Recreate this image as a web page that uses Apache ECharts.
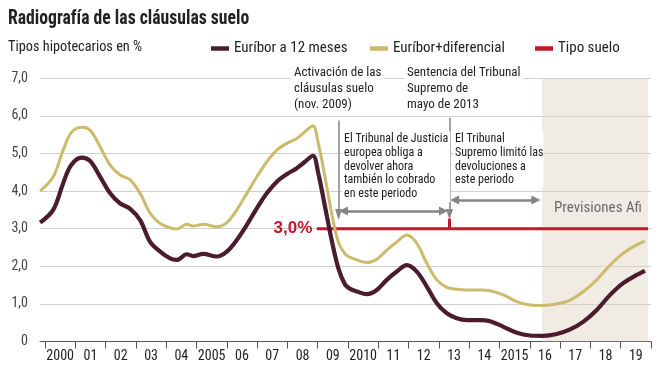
<!DOCTYPE html>
<html>
<head>
<meta charset="utf-8">
<script src="https://cdn.jsdelivr.net/npm/echarts@6/dist/echarts.min.js"></script>
<style>
html,body{margin:0;padding:0;background:#fff;}
#chart{width:664px;height:379px;}
</style>
</head>
<body>
<div id="chart"></div>
<script>
// ---- data ----
var years = [1999.84,2000.27,2000.60,2000.86,2001.21,2001.49,2001.82,2002.15,2002.48,2002.81,
  2003.14,2003.47,2003.80,2004.13,2004.35,2004.68,2004.89,2005.22,2005.67,2006.00,
  2006.33,2006.66,2006.99,2007.32,2007.65,2007.98,2008.31,2008.58,2008.84,2009.02,
  2009.24,2009.46,2009.68,2009.90,2010.07,2010.29,2010.62,2010.95,2011.28,2011.61,
  2011.94,2012.27,2012.60,2012.93,2013.26,2013.59,2013.92,2014.36,2014.69,2015.13,
  2015.57,2016.01,2016.45,2016.89,2017.33,2017.77,2018.21,2018.65,2019.09,2019.53,2019.80];
var euribor = [3.16,3.50,4.21,4.69,4.89,4.80,4.38,3.94,3.67,3.53,
  3.23,2.65,2.39,2.21,2.17,2.32,2.27,2.33,2.26,2.39,
  2.70,3.10,3.54,3.94,4.25,4.45,4.61,4.78,4.94,4.47,
  3.59,2.70,1.95,1.52,1.40,1.33,1.26,1.37,1.64,1.86,
  2.03,1.86,1.46,1.02,0.75,0.62,0.57,0.57,0.54,0.39,
  0.23,0.16,0.15,0.20,0.32,0.53,0.84,1.24,1.56,1.77,1.88];
var euriborDif = [4.00,4.38,5.09,5.55,5.70,5.62,5.18,4.69,4.43,4.30,
  3.94,3.41,3.14,3.02,2.99,3.12,3.07,3.12,3.05,3.16,
  3.50,3.94,4.38,4.78,5.09,5.27,5.40,5.58,5.74,5.27,
  4.38,3.41,2.65,2.33,2.24,2.17,2.10,2.19,2.43,2.65,
  2.83,2.61,2.08,1.64,1.44,1.39,1.37,1.37,1.35,1.24,
  1.06,0.97,0.96,1.00,1.10,1.33,1.64,2.03,2.35,2.57,2.67];
var floorYears = [2008.97, 2019.90];
var floorRate = 3.0;
var sentenceYear = 2013.35;
var activationYear = 2009.69;
var forecastYears = [2016.40, 2019.90];
var tickYears = [2000,2001,2002,2003,2004,2005,2006,2007,2008,2009,2010,2011,2012,2013,2014,2015,2016,2017,2018,2019,2020];
var tickLabels = ['2000','01','02','03','04','2005','06','07','08','09','2010','11','12','13','14','2015','16','17','18','19'];

// ---- styles ----
var FONT = "'Roboto Condensed','Open Sans',sans-serif";
var C_DARK = '#4a1c2e', C_YEL = '#cbbb6b', C_RED = '#c4172c', C_ARW = '#858585';

function pairs(xs, ys){ return xs.map(function(x,i){ return [x, ys[i]]; }); }

var chart = echarts.init(document.getElementById('chart'), null, {renderer:'canvas'});

var legendText = {fontFamily: FONT, fontSize: 15, color: '#222'};
function legendFor(name, left){
  return {left: left, top: 41, padding: 0, itemWidth: 18, itemHeight: 4.5, icon: 'rect',
    data: [name], textStyle: legendText, selectedMode: false};
}

var option = {
  backgroundColor: '#fff',
  animation: false,
  textStyle: {fontFamily: FONT},
  title: [
    {text: 'Tipos hipotecarios en %', left: 8, top: 40, padding: 0,
     textStyle: {fontFamily: FONT, fontWeight: 'normal', fontSize: 14.3, color: '#222'}}
  ],
  legend: [
    legendFor('Euríbor a 12 meses', 211),
    legendFor('Euríbor+diferencial', 370),
    legendFor('Tipo suelo', 535)
  ],
  grid: {left: 40, right: 13, top: 78.3, bottom: 37.5, containLabel: false},
  xAxis: {
    type: 'value', min: 1999.835, max: 2020,
    axisLine: {show: true, lineStyle: {color: '#555', width: 1}},
    axisTick: {show: true, length: 7, lineStyle: {color: '#555'}, customValues: tickYears},
    axisLabel: {show: true, customValues: tickYears.slice(0,20).map(function(y){return y+0.5;}),
      formatter: function(v){ return tickLabels[Math.floor(v)-2000]; },
      fontFamily: FONT, fontSize: 14, color: '#222', margin: 8},
    splitLine: {show: false}
  },
  yAxis: {
    type: 'value', min: 0, max: 7, interval: 1,
    axisLine: {show: false}, axisTick: {show: false},
    axisLabel: {formatter: function(v){ return v === 0 ? '0' : v.toFixed(1).replace('.', ','); },
      fontFamily: FONT, fontSize: 14, color: '#444', margin: 12},
    splitLine: {show: true, lineStyle: {color: '#d0d0d0', width: 1.2}}
  },
  series: [
    {
      name: 'forecast', type: 'line', data: [], silent: true, z: 1,
      markArea: {silent: true, itemStyle: {color: 'rgba(222,212,196,0.45)'},
        label: {show: true, position: 'insideTop', distance: 0, offset: [3, 122],
          formatter: 'Previsiones Afi', fontFamily: FONT, fontSize: 15, color: '#6a6a6a'},
        data: [[{coord: [forecastYears[0], 0]}, {coord: [forecastYears[1], 7]}]]}
    },
    {
      name: 'Tipo suelo', type: 'line', color: C_RED, z: 3,
      data: pairs(floorYears, [floorRate, floorRate]),
      showSymbol: false, symbol: 'none',
      lineStyle: {width: 3, color: C_RED},
      markPoint: {
        symbol: 'rect', symbolSize: [1,1], itemStyle: {color: 'rgba(0,0,0,0)'},
        label: {show: true, position: 'left', distance: 4, formatter: '3,0%',
          fontFamily: "'Liberation Sans',Arial,sans-serif", fontSize: 17, fontWeight: 'bold', color: C_RED},
        data: [{coord: [floorYears[0], floorRate]}]
      },
      markLine: {silent: true, symbol: 'none', lineStyle: {color: C_RED, width: 3, type: 'solid'},
        label: {show: false},
        data: [[{coord: [sentenceYear, floorRate]}, {coord: [sentenceYear, 3.27]}]]}
    },
    {
      name: 'Euríbor+diferencial', type: 'line', color: C_YEL, z: 4,
      data: pairs(years, euriborDif), smooth: 0.35, showSymbol: false, symbol: 'none',
      lineStyle: {width: 3, color: C_YEL}
    },
    {
      name: 'Euríbor a 12 meses', type: 'line', color: C_DARK, z: 5,
      data: pairs(years, euribor), smooth: 0.35, showSymbol: false, symbol: 'none',
      lineStyle: {width: 4.2, color: C_DARK}
    },
    {
      name: 'annot', type: 'line', data: [], silent: true, z: 6,
      markLine: {silent: true, animation: false,
        lineStyle: {color: C_ARW, width: 1.5, type: 'solid'},
        label: {show: false},
        data: [
          [{coord: [activationYear, 5.88], symbol: 'none'}, {coord: [activationYear, 3.38], symbol: 'triangle', symbolSize: [7, 11]}],
          [{coord: [sentenceYear, 5.95], symbol: 'none'}, {coord: [sentenceYear, 3.38], symbol: 'triangle', symbolSize: [7, 11]}],
          [{coord: [2009.85, 3.47], symbol: 'triangle', symbolSize: [9, 9], lineStyle: {width: 2.5}}, {coord: [2013.15, 3.47], symbol: 'triangle', symbolSize: [9, 9]}],
          [{coord: [2013.52, 3.76], symbol: 'triangle', symbolSize: [9, 9], lineStyle: {width: 2.5}}, {coord: [2016.20, 3.76], symbol: 'triangle', symbolSize: [9, 9]}]
        ]}
    }
  ],
  graphic: [
    {type: 'text', x: 8, y: 9, scaleX: 0.905, z: 10, style: {
      text: 'Radiografía de las cláusulas suelo', font: 'bold 19.5px ' + FONT, fill: '#222',
      verticalAlign: 'top', align: 'left'}},
    {type: 'text', left: 291, top: 65, z: 10, style: {
      text: 'Activación de las\ncláusulas suelo\n(nov. 2009)', font: '13px ' + FONT, fill: '#222',
      lineHeight: 16, backgroundColor: '#fff', padding: [0, 3]}},
    {type: 'text', left: 404, top: 65, z: 10, style: {
      text: 'Sentencia del Tribunal\nSupremo de\nmayo de 2013', font: '13px ' + FONT, fill: '#222',
      lineHeight: 16, backgroundColor: '#fff', padding: [0, 3]}},
    {type: 'text', left: 342, top: 131, z: 10, style: {
      text: 'El Tribunal de Justicia\neuropea obliga a\ndevolver ahora\ntambién lo cobrado\nen este periodo', font: '12px ' + FONT, fill: '#1a1a1a',
      lineHeight: 13.8, backgroundColor: '#fff', padding: [1, 2, 1, 2]}},
    {type: 'text', left: 453, top: 131, z: 10, style: {
      text: 'El Tribunal\nSupremo limitó las\ndevoluciones a\neste periodo', font: '12px ' + FONT, fill: '#1a1a1a',
      lineHeight: 13.8, backgroundColor: '#fff', padding: [1, 0, 0, 2]}}
  ]
};
chart.setOption(option);
</script>
</body>
</html>
